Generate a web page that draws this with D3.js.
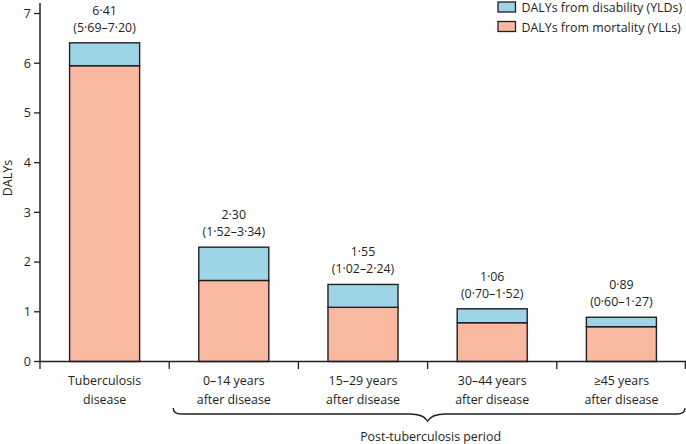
<!DOCTYPE html>
<html>
<head>
<meta charset="utf-8">
<script src="https://cdn.jsdelivr.net/npm/d3@7"></script>
<style>
  body { margin: 0; background: #fff; }
  svg { display: block; font-family: "Open Sans", sans-serif; }
  text { fill: #231f20; }
</style>
</head>
<body>
<div id="chart"></div>
<script>
// データ
var categories = ["Tuberculosis\ndisease", "0–14 years\nafter disease", "15–29 years\nafter disease", "30–44 years\nafter disease", "≥45 years\nafter disease"];
var yll = [5.95, 1.63, 1.09, 0.78, 0.70];
var yld = [0.46, 0.67, 0.46, 0.28, 0.19];
var totalLabels = ["6·41", "2·30", "1·55", "1·06", "0·89"];
var intervalLabels = ["(5·69–7·20)", "(1·52–3·34)", "(1·02–2·24)", "(0·70–1·52)", "(0·60–1·27)"];
var yTicks = [0, 1, 2, 3, 4, 5, 6, 7];
var legendLabels = ["DALYs from disability (YLDs)", "DALYs from mortality (YLLs)"];
var colors = { yld: "#9dd5e7", yll: "#f9b9a0" };

var W = 686, H = 444;
var ink = "#231f20";
var fs = 12.4;

var svg = d3.select("#chart").append("svg").attr("width", W).attr("height", H);

var x = d3.scaleBand().domain(d3.range(categories.length)).range([40, 686]);
var xBar = d3.scaleBand().domain(d3.range(categories.length)).range([40, 686])
  .paddingInner(0.458).paddingOuter(0.229);
var y = d3.scaleLinear().domain([0, 7]).range([361.5, 13.5]);

// 積み上げデータ
var rows = categories.map(function(c, i){
  return { i: i, yll: yll[i], yld: yld[i], total: yll[i] + yld[i] };
});

// Y軸
svg.append("line").attr("x1", 40).attr("x2", 40).attr("y1", 3).attr("y2", y(0))
  .attr("stroke", ink).attr("stroke-width", 1.5);
var yt = svg.selectAll(".yt").data(yTicks).enter().append("g").attr("class", "yt");
yt.append("line").attr("x1", 34).attr("x2", 40)
  .attr("y1", function(d){ return y(d); }).attr("y2", function(d){ return y(d); })
  .attr("stroke", ink).attr("stroke-width", 1.3);
yt.append("text").attr("x", 31).attr("y", function(d){ return y(d) + 4.4; })
  .attr("text-anchor", "end").attr("font-size", 12.5).text(function(d){ return d; });

svg.append("text").attr("transform", "translate(11.5,178) rotate(-90)")
  .attr("text-anchor", "middle").attr("font-size", 12.5).text("DALYs");

// 棒グラフ
var bars = svg.selectAll(".bar").data(rows).enter().append("g").attr("class", "bar");
bars.append("rect")
  .attr("x", function(d){ return xBar(d.i); }).attr("width", xBar.bandwidth())
  .attr("y", function(d){ return y(d.yll); })
  .attr("height", function(d){ return y(0) - y(d.yll); })
  .attr("fill", colors.yll).attr("stroke", ink).attr("stroke-width", 1.4);
bars.append("rect")
  .attr("x", function(d){ return xBar(d.i); }).attr("width", xBar.bandwidth())
  .attr("y", function(d){ return y(d.total); })
  .attr("height", function(d){ return y(d.yll) - y(d.total); })
  .attr("fill", colors.yld).attr("stroke", ink).attr("stroke-width", 1.4);

// ラベル
bars.append("text")
  .attr("x", function(d){ return xBar(d.i) + xBar.bandwidth() / 2; })
  .attr("y", function(d){ return y(d.total) - 28; })
  .attr("text-anchor", "middle").attr("font-size", fs)
  .text(function(d){ return totalLabels[d.i]; });
bars.append("text")
  .attr("x", function(d){ return xBar(d.i) + xBar.bandwidth() / 2; })
  .attr("y", function(d){ return y(d.total) - 11; })
  .attr("text-anchor", "middle").attr("font-size", fs)
  .text(function(d){ return intervalLabels[d.i]; });

// X軸
svg.append("line").attr("x1", 40).attr("x2", 686).attr("y1", y(0)).attr("y2", y(0))
  .attr("stroke", ink).attr("stroke-width", 1.5);
var bounds = d3.range(categories.length + 1).map(function(i){ return 40 + i * x.step(); });
svg.selectAll(".xt").data(bounds).enter().append("line")
  .attr("x1", function(d){ return Math.min(d, 685.3); }).attr("x2", function(d){ return Math.min(d, 685.3); })
  .attr("y1", y(0)).attr("y2", y(0) + 7.5)
  .attr("stroke", ink).attr("stroke-width", 1.3);

var xl = svg.selectAll(".xl").data(categories).enter().append("text")
  .attr("text-anchor", "middle").attr("font-size", fs);
xl.each(function(d, i){
  var lines = d.split("\n");
  var t = d3.select(this);
  lines.forEach(function(l, k){
    t.append("tspan").attr("x", x(i) + x.bandwidth() / 2).attr("y", 385 + k * 19).text(l);
  });
});

// 波括弧
var bx0 = x(1) + 4, bx1 = 685, bm = x(3), by = 414;
var brace = d3.path();
brace.moveTo(bx0, by - 6);
brace.quadraticCurveTo(bx0, by, bx0 + 8, by);
brace.lineTo(bm - 18, by);
brace.quadraticCurveTo(bm - 4, by, bm, by + 7);
brace.quadraticCurveTo(bm + 4, by, bm + 18, by);
brace.lineTo(bx1 - 8, by);
brace.quadraticCurveTo(bx1, by, bx1, by - 6);
svg.append("path").attr("d", brace.toString()).attr("fill", "none")
  .attr("stroke", ink).attr("stroke-width", 1.4);
svg.append("text").attr("x", bm + 3).attr("y", 441).attr("text-anchor", "middle")
  .attr("font-size", fs).text("Post-tuberculosis period");

// 凡例
var lg = svg.selectAll(".lg").data(legendLabels).enter().append("g").attr("class", "lg")
  .attr("transform", function(d, i){ return "translate(498," + (2 + i * 19.5) + ")"; });
lg.append("rect").attr("width", 17.5).attr("height", 10)
  .attr("fill", function(d, i){ return i === 0 ? colors.yld : colors.yll; })
  .attr("stroke", ink).attr("stroke-width", 1.3);
lg.append("text").attr("x", 23.5).attr("y", 10).attr("font-size", fs).text(function(d){ return d; });
</script>
</body>
</html>
